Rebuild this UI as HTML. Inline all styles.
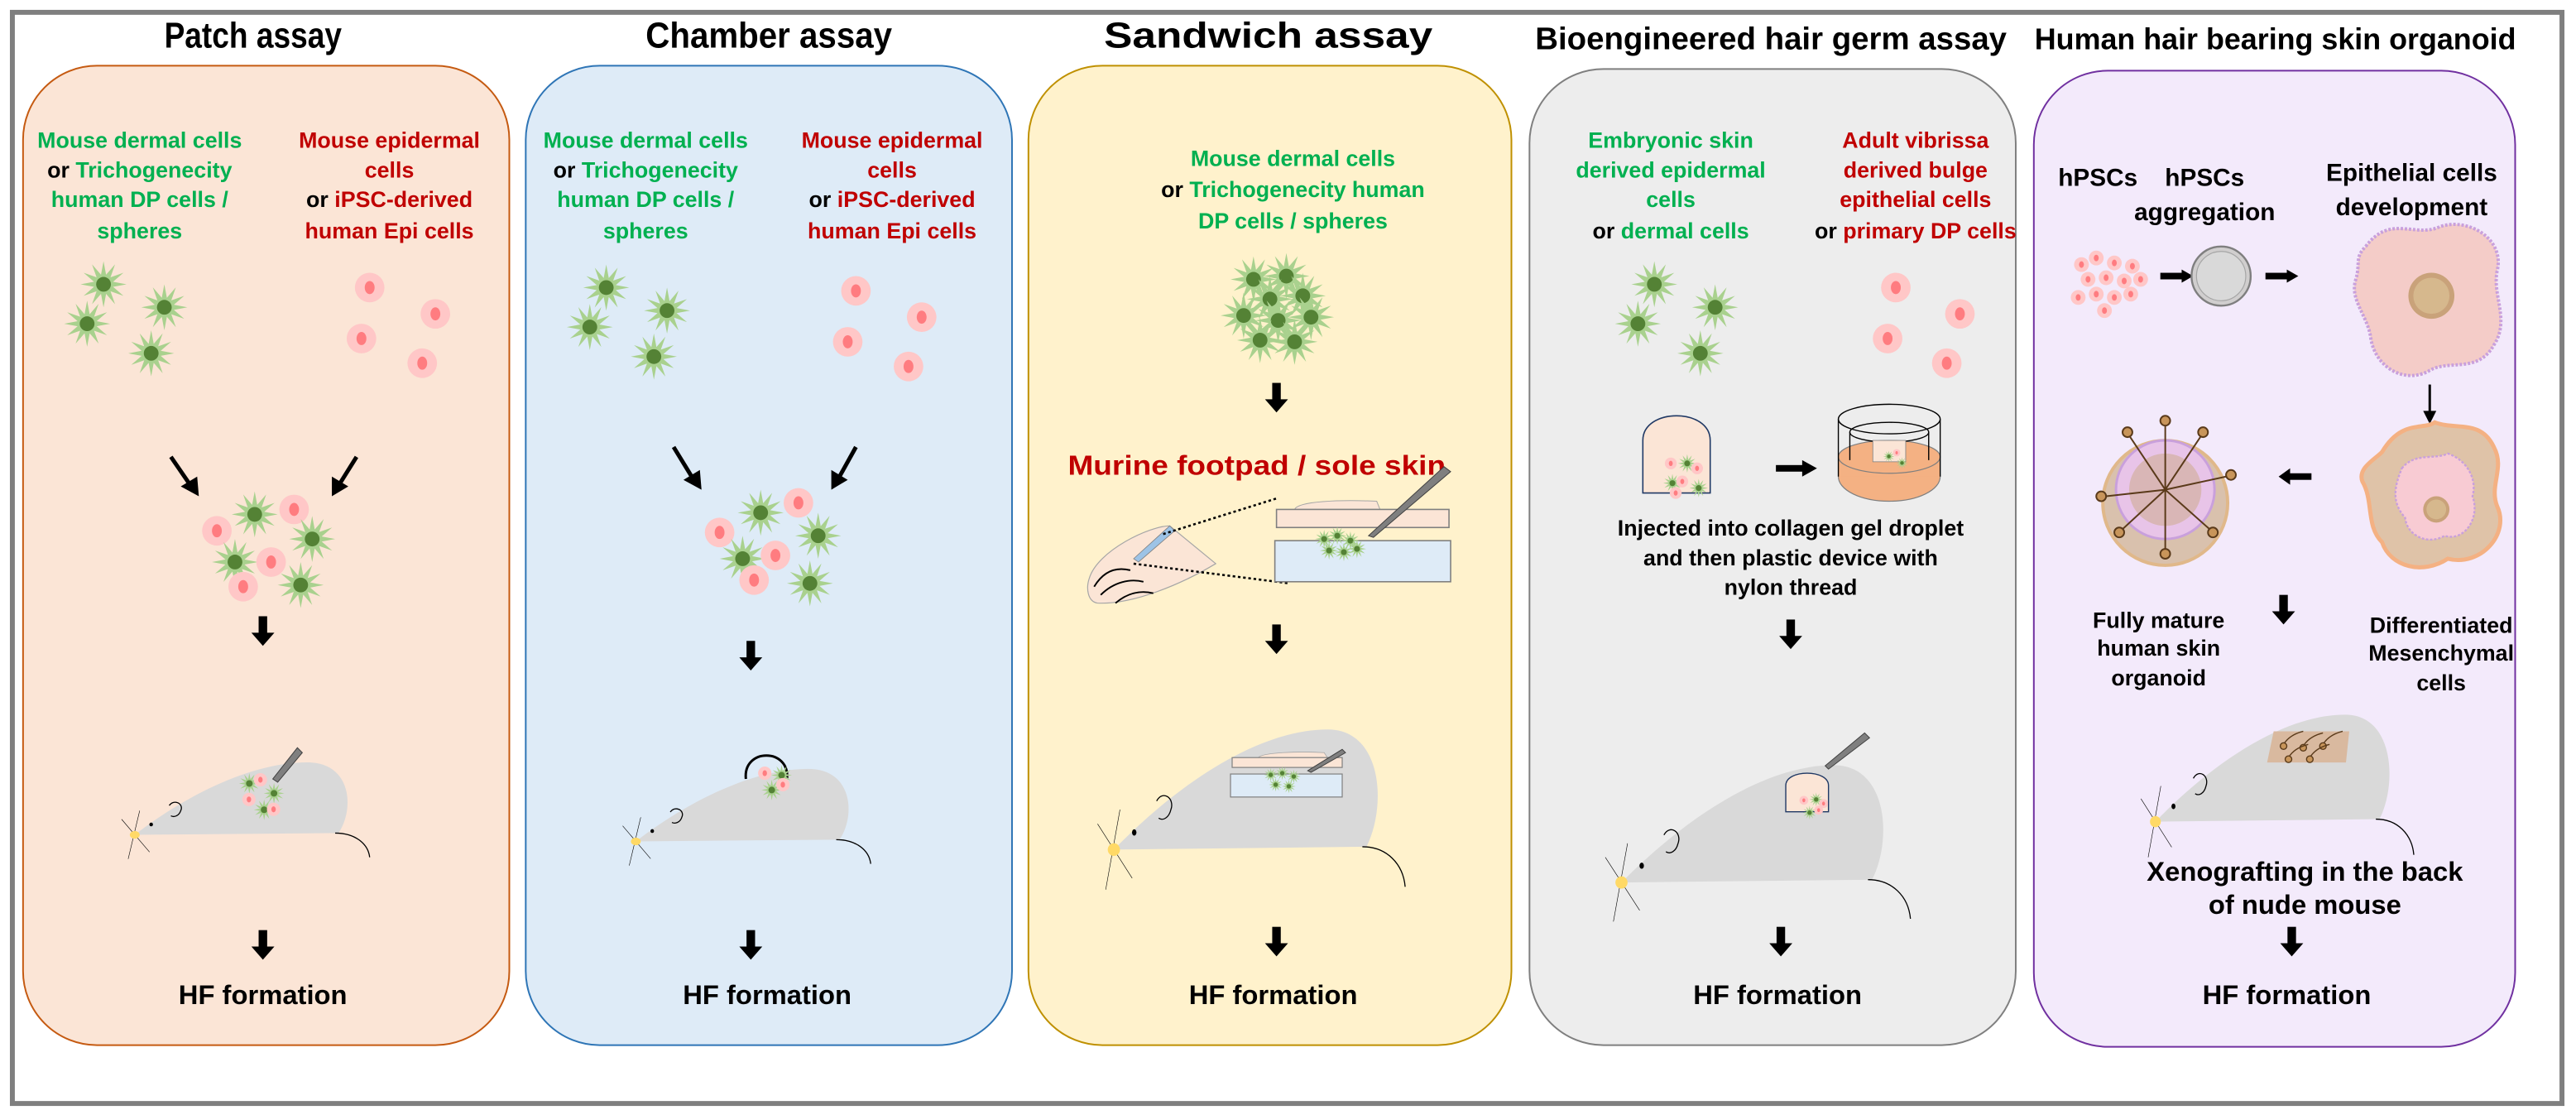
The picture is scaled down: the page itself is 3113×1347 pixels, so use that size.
<!DOCTYPE html>
<html><head><meta charset="utf-8"><style>
html,body{margin:0;padding:0;background:#fff;}
svg{display:block;}
text{font-family:"Liberation Sans",Arial,sans-serif;font-weight:bold;}
</style></head><body>
<svg width="3113" height="1347" viewBox="0 0 1568 678.5" xmlns="http://www.w3.org/2000/svg">
<defs>
<symbol id="st" viewBox="-15 -15 30 30" width="30" height="30" overflow="visible">
<polygon points="14,0 5.8,1.55 12.12,7 4.24,4.24 7,12.12 1.55,5.8 0,14 -1.55,5.8 -7,12.12 -4.24,4.24 -12.12,7 -5.8,1.55 -14,0 -5.8,-1.55 -12.12,-7 -4.24,-4.24 -7,-12.12 -1.55,-5.8 0,-14 1.55,-5.8 7,-12.12 4.24,-4.24 12.12,-7 5.8,-1.55" fill="#a9d18e"/>
<circle r="4.5" fill="#548235"/>
</symbol>
<symbol id="pk" viewBox="-10 -10 20 20" width="20" height="20" overflow="visible">
<circle r="9" fill="#ffc7c7"/><ellipse rx="3" ry="4" fill="#ff7c80"/>
</symbol>
<symbol id="dn" viewBox="-8 0 16 19" width="16" height="19" overflow="visible">
<rect x="-2.6" y="0" width="5.2" height="11" fill="#000"/><polygon points="-7,10 7,10 0,18" fill="#000"/>
</symbol>
<g id="mouse">
<path d="M0,0 C30,-22 70,-42 105,-42 C132,-42 134,-15 124,-1 Z" fill="#d9d9d9"/>
<path d="M122,-1 C134,-1 142,5 143,13" stroke="#000" stroke-width="1.3" fill="none" vector-effect="non-scaling-stroke"/>
<circle cx="10" cy="-6" r="1.1" fill="#000"/>
<path d="M21,-17 C24,-21 30,-18 28,-14 C27,-11 24,-10 22,-11" stroke="#000" stroke-width="1.3" fill="none" vector-effect="non-scaling-stroke"/>
<line x1="3" y1="-14" x2="-4" y2="14" stroke="#000" stroke-width="0.6" vector-effect="non-scaling-stroke"/>
<line x1="-8" y1="-9" x2="9" y2="10" stroke="#000" stroke-width="0.6" vector-effect="non-scaling-stroke"/>
<ellipse cx="0" cy="0" rx="3" ry="2.2" fill="#ffd966"/>
</g>
</defs>

<rect x="7.5" y="7.5" width="1552" height="664" fill="#fff" stroke="#7f7f7f" stroke-width="3"/>

<text x="154" y="29" font-size="22" text-anchor="middle" textLength="108" lengthAdjust="spacingAndGlyphs">Patch assay</text>
<text x="468" y="29" font-size="22" text-anchor="middle" textLength="150" lengthAdjust="spacingAndGlyphs">Chamber assay</text>
<text x="772" y="29" font-size="22" text-anchor="middle" textLength="200" lengthAdjust="spacingAndGlyphs">Sandwich assay</text>
<text x="1078" y="30" font-size="19" text-anchor="middle" textLength="287" lengthAdjust="spacingAndGlyphs">Bioengineered hair germ assay</text>
<text x="1385" y="30" font-size="18" text-anchor="middle" textLength="293" lengthAdjust="spacingAndGlyphs">Human hair bearing skin organoid</text>

<rect x="14" y="40" width="296" height="596" rx="45" fill="#fbe5d6" stroke="#c55a11" stroke-width="1"/>
<rect x="320" y="40" width="296" height="596" rx="45" fill="#deebf7" stroke="#2e75b6" stroke-width="1"/>
<rect x="626" y="40" width="294" height="596" rx="45" fill="#fff2cc" stroke="#bf9000" stroke-width="1"/>
<rect x="931" y="42" width="296" height="594" rx="45" fill="#ededed" stroke="#7f7f7f" stroke-width="1"/>
<rect x="1238" y="43" width="293" height="594" rx="45" fill="#f3eafb" stroke="#7030a0" stroke-width="1"/>

<g font-size="13.5" text-anchor="middle">
<g fill="#00b050">
<text x="85" y="90">Mouse dermal cells</text>
<text x="85" y="108"><tspan fill="#000">or </tspan>Trichogenecity</text>
<text x="85" y="126">human DP cells /</text>
<text x="85" y="145">spheres</text>
<text x="393" y="90">Mouse dermal cells</text>
<text x="393" y="108"><tspan fill="#000">or </tspan>Trichogenecity</text>
<text x="393" y="126">human DP cells /</text>
<text x="393" y="145">spheres</text>
<text x="787" y="101">Mouse dermal cells</text>
<text x="787" y="120"><tspan fill="#000">or </tspan>Trichogenecity human</text>
<text x="787" y="139">DP cells / spheres</text>
<text x="1017" y="90">Embryonic skin</text>
<text x="1017" y="108">derived epidermal</text>
<text x="1017" y="126">cells</text>
<text x="1017" y="145"><tspan fill="#000">or </tspan>dermal cells</text>
</g>
<g fill="#c00000">
<text x="237" y="90">Mouse epidermal</text>
<text x="237" y="108">cells</text>
<text x="237" y="126"><tspan fill="#000">or </tspan>iPSC-derived</text>
<text x="237" y="145">human Epi cells</text>
<text x="543" y="90">Mouse epidermal</text>
<text x="543" y="108">cells</text>
<text x="543" y="126"><tspan fill="#000">or </tspan>iPSC-derived</text>
<text x="543" y="145">human Epi cells</text>
<text x="1166" y="90">Adult vibrissa</text>
<text x="1166" y="108">derived bulge</text>
<text x="1166" y="126">epithelial cells</text>
<text x="1166" y="145"><tspan fill="#000">or </tspan>primary DP cells</text>
</g>
</g>

<g>
<use href="#st" x="48" y="158"/><use href="#st" x="85" y="172"/><use href="#st" x="38" y="182"/><use href="#st" x="77" y="200"/>
<use href="#pk" x="215" y="165"/><use href="#pk" x="255" y="181"/><use href="#pk" x="210" y="196"/><use href="#pk" x="247" y="211"/>
<use href="#st" x="354" y="160"/><use href="#st" x="391" y="174"/><use href="#st" x="344" y="184"/><use href="#st" x="383" y="202"/>
<use href="#pk" x="511" y="167"/><use href="#pk" x="551" y="183"/><use href="#pk" x="506" y="198"/><use href="#pk" x="543" y="213"/>
<use href="#st" x="992" y="158"/><use href="#st" x="1029" y="172"/><use href="#st" x="982" y="182"/><use href="#st" x="1020" y="200"/>
<use href="#pk" x="1144" y="165"/><use href="#pk" x="1183" y="181"/><use href="#pk" x="1139" y="196"/><use href="#pk" x="1175" y="211"/>
<use href="#st" x="748" y="155"/><use href="#st" x="768" y="153"/><use href="#st" x="758" y="167"/><use href="#st" x="778" y="165"/>
<use href="#st" x="742" y="177"/><use href="#st" x="763" y="180"/><use href="#st" x="783" y="178"/><use href="#st" x="752" y="192"/><use href="#st" x="773" y="193"/>
</g>

<g stroke="#000" stroke-width="2.5" fill="#000">
<line x1="104" y1="278" x2="115" y2="294"/><polygon points="110,296 121,302 120,290" stroke="none"/>
<line x1="217" y1="278" x2="207" y2="294"/><polygon points="202,290 202,302 212,296" stroke="none"/>
<line x1="410" y1="272" x2="421" y2="290"/><polygon points="416,292 427,298 426,286" stroke="none"/>
<line x1="521" y1="272" x2="511" y2="290"/><polygon points="506,286 506,298 516,292" stroke="none"/>
</g>

<g>
<use href="#pk" x="169" y="300"/><use href="#st" x="140" y="298"/><use href="#pk" x="122" y="313"/><use href="#st" x="175" y="313"/>
<use href="#st" x="128" y="327"/><use href="#pk" x="155" y="332"/><use href="#st" x="168" y="341"/><use href="#pk" x="138" y="347"/>
<use href="#pk" x="476" y="296"/><use href="#st" x="448" y="297"/><use href="#pk" x="428" y="314"/><use href="#st" x="483" y="311"/>
<use href="#st" x="437" y="325"/><use href="#pk" x="462" y="328"/><use href="#st" x="478" y="340"/><use href="#pk" x="449" y="343"/>
</g>

<use href="#dn" x="152" y="375"/><use href="#dn" x="152" y="566"/>
<use href="#dn" x="449" y="390"/><use href="#dn" x="449" y="566"/>
<use href="#dn" x="769" y="233"/><use href="#dn" x="769" y="380"/><use href="#dn" x="769" y="564"/>
<use href="#dn" x="1082" y="377"/><use href="#dn" x="1076" y="564"/>
<use href="#dn" x="1382" y="362"/><use href="#dn" x="1387" y="564"/>

<g font-size="16.5" text-anchor="middle">
<text x="160" y="611">HF formation</text>
<text x="467" y="611">HF formation</text>
<text x="775" y="611">HF formation</text>
<text x="1082" y="611">HF formation</text>
<text x="1392" y="611">HF formation</text>
</g>

<use href="#mouse" transform="translate(82,508) scale(1,1.05)"/>
<g><use href="#st" transform="translate(145,470) scale(0.45)"/><use href="#pk" transform="translate(154,470) scale(0.45)"/><use href="#st" transform="translate(160,476) scale(0.45)"/><use href="#pk" transform="translate(147,482) scale(0.45)"/><use href="#st" transform="translate(154,486) scale(0.45)"/><use href="#pk" transform="translate(162,488) scale(0.45)"/></g>
<polygon points="166,474 181,455 184,458 169,476" fill="#7f7f7f" stroke="#404040" stroke-width="0.5"/>

<use href="#mouse" transform="translate(387,512) scale(1,1.05)"/>
<path d="M454,474 C452,455 481,455 479,474" fill="none" stroke="#000" stroke-width="1.5"/>
<g><use href="#pk" transform="translate(461,466) scale(0.45)"/><use href="#st" transform="translate(469,465) scale(0.45)"/><use href="#st" transform="translate(463,474) scale(0.45)"/><use href="#pk" transform="translate(472,473) scale(0.45)"/></g>

<text x="765" y="289" font-size="17" fill="#c00000" text-anchor="middle" textLength="230" lengthAdjust="spacingAndGlyphs">Murine footpad / sole skin</text>
<path d="M663,352 C668,335 700,320 712,320 L740,343 C720,355 690,368 668,367 C662,366 661,358 663,352 Z" fill="#fbe5d6" stroke="#a6a6a6" stroke-width="0.6"/>
<g fill="none" stroke="#000" stroke-width="1">
<path d="M666,357 C672,347 680,345 688,347"/><path d="M670,362 C678,354 688,352 696,354"/><path d="M679,367 C686,361 694,359 702,361"/>
</g>
<polygon points="690,340 712,320 715,323 693,342" fill="#9dc3e6" stroke="#7f7f7f" stroke-width="0.4"/>
<g stroke="#000" stroke-width="1.3" stroke-dasharray="1.6,1.6" fill="none">
<line x1="708" y1="325" x2="778" y2="303"/><line x1="690" y1="343" x2="785" y2="355"/>
</g>
<path d="M788,310 C790,305 815,304 838,305 L840,310 Z" fill="#fbe5d6" stroke="#a6a6a6" stroke-width="0.5"/>
<rect x="777" y="310" width="105" height="11" fill="#fbe5d6" stroke="#7f7f7f" stroke-width="0.8"/>
<rect x="776" y="329" width="107" height="25" fill="#deebf7" stroke="#7f7f7f" stroke-width="0.8"/>
<g><use href="#st" transform="translate(800,322) scale(0.4)"/><use href="#st" transform="translate(808,320) scale(0.4)"/><use href="#st" transform="translate(816,323) scale(0.4)"/><use href="#st" transform="translate(803,329) scale(0.4)"/><use href="#st" transform="translate(812,330) scale(0.4)"/><use href="#st" transform="translate(820,328) scale(0.4)"/></g>
<polygon points="833,326 879,284 883,287 836,327" fill="#7f7f7f" stroke="#404040" stroke-width="0.5"/>

<use href="#mouse" transform="translate(678,517) scale(1.24,1.74)"/>
<path d="M766,461 C768,458 790,457 806,458 L808,461 Z" fill="#fbe5d6" stroke="#a6a6a6" stroke-width="0.4"/>
<rect x="750" y="461" width="67" height="6" fill="#fbe5d6" stroke="#7f7f7f" stroke-width="0.6"/>
<rect x="749" y="471" width="68" height="14" fill="#deebf7" stroke="#7f7f7f" stroke-width="0.6"/>
<g><use href="#st" transform="translate(769,467) scale(0.3)"/><use href="#st" transform="translate(776,466) scale(0.3)"/><use href="#st" transform="translate(783,468) scale(0.3)"/><use href="#st" transform="translate(772,473) scale(0.3)"/><use href="#st" transform="translate(780,474) scale(0.3)"/></g>
<polygon points="796,469 817,456 819,458 798,470" fill="#7f7f7f" stroke="#404040" stroke-width="0.5"/>

<path d="M1000,300 L1000,268 C1000,248 1041,248 1041,268 L1041,300 Z" fill="#fbe5d6" stroke="#1f3864" stroke-width="0.8"/>
<g><use href="#pk" transform="translate(1013,278) scale(0.4)"/><use href="#st" transform="translate(1021,276) scale(0.4)"/><use href="#pk" transform="translate(1029,281) scale(0.4)"/><use href="#st" transform="translate(1012,288) scale(0.4)"/><use href="#pk" transform="translate(1020,289) scale(0.4)"/><use href="#st" transform="translate(1028,291) scale(0.4)"/><use href="#pk" transform="translate(1016,296) scale(0.4)"/></g>
<rect x="1081" y="283" width="18" height="4" fill="#000"/><polygon points="1097,280 1106,285 1097,290" fill="#000"/>
<ellipse cx="1150" cy="290" rx="31" ry="15" fill="#f4b183" stroke="#7f7f7f" stroke-width="0.6"/>
<rect x="1119" y="278" width="62" height="12" fill="#f4b183"/>
<ellipse cx="1150" cy="278" rx="31" ry="10" fill="#f4b183" stroke="#7f7f7f" stroke-width="0.6"/>
<path d="M1119,255 L1119,290 M1181,255 L1181,290" stroke="#000" stroke-width="0.7"/>
<ellipse cx="1150" cy="255" rx="31" ry="9" fill="none" stroke="#000" stroke-width="0.7"/>
<path d="M1126,263 L1126,280 M1174,263 L1174,280" stroke="#000" stroke-width="0.7"/>
<ellipse cx="1150" cy="263" rx="24" ry="6" fill="none" stroke="#000" stroke-width="0.7"/>
<rect x="1140" y="268" width="20" height="13" fill="#fbe5d6" stroke="#7f7f7f" stroke-width="0.4"/>
<g><use href="#st" transform="translate(1146,274) scale(0.25)"/><use href="#pk" transform="translate(1152,273) scale(0.25)"/><use href="#st" transform="translate(1154,278) scale(0.25)"/></g>
<g font-size="13.5" text-anchor="middle">
<text x="1090" y="326">Injected into collagen gel droplet</text>
<text x="1090" y="344">and then plastic device with</text>
<text x="1090" y="362">nylon thread</text>
</g>
<use href="#mouse" transform="translate(987,537) scale(1.23,1.7)"/>
<path d="M1087,494 L1087,478 C1087,468 1113,468 1113,478 L1113,494 Z" fill="#fbe5d6" stroke="#1f3864" stroke-width="0.7"/>
<g><use href="#pk" transform="translate(1095,484) scale(0.3)"/><use href="#st" transform="translate(1101,482) scale(0.3)"/><use href="#pk" transform="translate(1107,486) scale(0.3)"/><use href="#st" transform="translate(1097,490) scale(0.3)"/><use href="#pk" transform="translate(1104,490) scale(0.3)"/></g>
<polygon points="1111,466 1135,446 1138,449 1113,468" fill="#7f7f7f" stroke="#404040" stroke-width="0.5"/>

<g font-size="15" text-anchor="middle">
<text x="1277" y="113">hPSCs</text>
<text x="1342" y="113">hPSCs</text>
<text x="1342" y="134">aggregation</text>
<text x="1468" y="110">Epithelial cells</text>
<text x="1468" y="131">development</text>
</g>
<g>
<use href="#pk" transform="translate(1262,156) scale(0.5)"/><use href="#pk" transform="translate(1271,152) scale(0.5)"/><use href="#pk" transform="translate(1282,155) scale(0.5)"/><use href="#pk" transform="translate(1293,157) scale(0.5)"/>
<use href="#pk" transform="translate(1266,165) scale(0.5)"/><use href="#pk" transform="translate(1277,164) scale(0.5)"/><use href="#pk" transform="translate(1288,166) scale(0.5)"/><use href="#pk" transform="translate(1298,165) scale(0.5)"/>
<use href="#pk" transform="translate(1260,176) scale(0.5)"/><use href="#pk" transform="translate(1271,174) scale(0.5)"/><use href="#pk" transform="translate(1282,176) scale(0.5)"/><use href="#pk" transform="translate(1292,174) scale(0.5)"/><use href="#pk" transform="translate(1276,184) scale(0.5)"/>
</g>
<rect x="1315" y="166" width="15" height="4" fill="#000"/><polygon points="1328,164 1335,168 1328,172" fill="#000"/>
<circle cx="1352" cy="168" r="18" fill="#d0cece" stroke="#7f7f7f" stroke-width="1.2"/>
<circle cx="1352" cy="168" r="15" fill="#d9d9d9" stroke="#a6a6a6" stroke-width="0.6"/>
<rect x="1379" y="166" width="15" height="4" fill="#000"/><polygon points="1392,164 1399,168 1392,172" fill="#000"/>
<path d="M1440,150 C1455,130 1470,145 1485,138 C1502,132 1525,145 1520,165 C1517,180 1528,195 1518,210 C1508,228 1490,218 1478,226 C1462,234 1445,222 1443,205 C1441,192 1430,182 1434,170 C1437,160 1433,157 1440,150 Z" fill="#f4ccc8" stroke="#c9a0dc" stroke-width="2" stroke-dasharray="1.5,1"/>
<circle cx="1480" cy="180" r="14" fill="#c9a27a"/><circle cx="1480" cy="180" r="11" fill="#d6b88d"/>
<line x1="1479" y1="234" x2="1479" y2="252" stroke="#000" stroke-width="1.5"/><polygon points="1475,250 1483,250 1479,258" fill="#000"/>
<path d="M1450,275 C1462,255 1475,262 1482,257 C1495,262 1510,255 1518,272 C1525,285 1515,295 1520,308 C1528,325 1510,345 1490,340 C1475,350 1455,345 1450,330 C1440,320 1445,305 1438,293 C1435,285 1445,280 1450,275 Z" fill="#dfc3a8" stroke="#f4b183" stroke-width="2.5"/>
<path d="M1462,285 C1470,275 1482,280 1490,276 C1502,280 1508,292 1505,302 C1510,315 1500,330 1488,326 C1478,332 1465,326 1464,315 C1455,305 1458,295 1462,285 Z" fill="#f8cbd3" stroke="#c9a0dc" stroke-width="1.2" stroke-dasharray="1.5,1"/>
<circle cx="1483" cy="310" r="8" fill="#c9a27a"/><circle cx="1483" cy="310" r="6" fill="#d6b88d"/>
<rect x="1392" y="288" width="15" height="4" fill="#000"/><polygon points="1394,285 1387,290 1394,295" fill="#000"/>
<circle cx="1318" cy="306" r="38" fill="#d9c1ad" stroke="#e0b88a" stroke-width="2"/>
<circle cx="1318" cy="298" r="30" fill="#e8c4e8" stroke="#c9a0dc" stroke-width="1.5"/>
<circle cx="1318" cy="298" r="22" fill="#d9b6b6"/>
<g stroke="#5a3a1a" stroke-width="1" fill="#c8955a">
<line x1="1318" y1="298" x2="1318" y2="258"/><circle cx="1318" cy="256" r="3"/>
<line x1="1318" y1="298" x2="1340" y2="265"/><circle cx="1341" cy="263" r="3"/>
<line x1="1318" y1="298" x2="1296" y2="265"/><circle cx="1295" cy="263" r="3"/>
<line x1="1318" y1="298" x2="1355" y2="290"/><circle cx="1358" cy="289" r="3"/>
<line x1="1318" y1="298" x2="1282" y2="302"/><circle cx="1279" cy="302" r="3"/>
<line x1="1318" y1="298" x2="1345" y2="322"/><circle cx="1347" cy="324" r="3"/>
<line x1="1318" y1="298" x2="1292" y2="322"/><circle cx="1290" cy="324" r="3"/>
<line x1="1318" y1="298" x2="1318" y2="335"/><circle cx="1318" cy="337" r="3"/>
</g>
<g font-size="13.5" text-anchor="middle">
<text x="1314" y="382">Fully mature</text>
<text x="1314" y="399">human skin</text>
<text x="1314" y="417">organoid</text>
<text x="1486" y="385">Differentiated</text>
<text x="1486" y="402">Mesenchymal</text>
<text x="1486" y="420">cells</text>
</g>
<use href="#mouse" transform="translate(1312,500) scale(1.1,1.55)"/>
<polygon points="1384,445 1430,445 1428,464 1380,464" fill="#d9b99f"/>
<g stroke="#5a3a1a" stroke-width="0.7" fill="#c8955a">
<path d="M1390,453 C1393,448 1398,446 1402,445" fill="none"/><circle cx="1390" cy="454" r="2"/>
<path d="M1402,454 C1405,449 1410,447 1414,446" fill="none"/><circle cx="1402" cy="455" r="2"/>
<path d="M1414,453 C1417,448 1422,446 1426,445" fill="none"/><circle cx="1414" cy="454" r="2"/>
<path d="M1393,461 C1396,456 1401,454 1405,453" fill="none"/><circle cx="1393" cy="462" r="2"/>
<path d="M1406,461 C1409,456 1414,454 1418,453" fill="none"/><circle cx="1406" cy="462" r="2"/>
</g>
<g font-size="16.5" text-anchor="middle">
<text x="1403" y="536">Xenografting in the back</text>
<text x="1403" y="556">of nude mouse</text>
</g>
</svg>
</body></html>
